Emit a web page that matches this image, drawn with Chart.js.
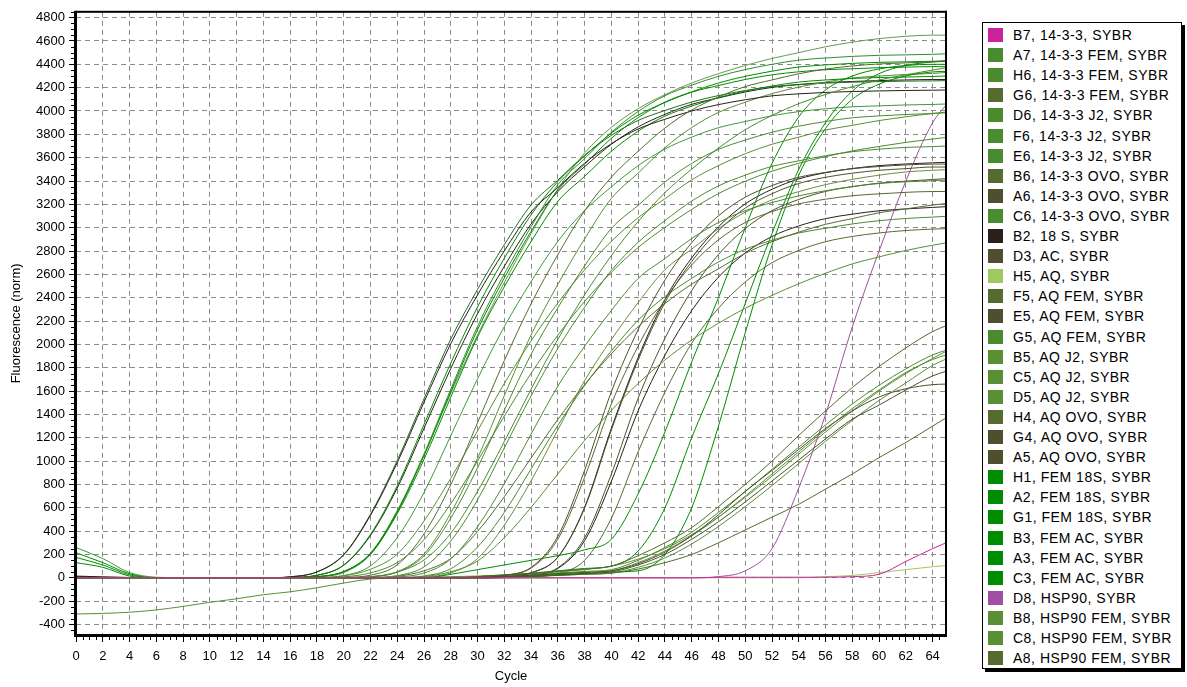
<!DOCTYPE html>
<html>
<head>
<meta charset="utf-8">
<script src="https://cdn.jsdelivr.net/npm/chart.js@4.4.1/dist/chart.umd.min.js"></script>
<style>
  body { margin: 0; background: #fff; font-family: "Liberation Sans", Arial, sans-serif; }
  #wrap { position: relative; width: 1187px; height: 687px; }
  #plot { position: absolute; left: 0; top: 0; }
  #legend { position: absolute; left: 982px; top: 22px; width: 198px; height: 645px;
            border: 1px solid #000; box-shadow: 3px 3px 0 #000; background: #fff; }
  .item { position: absolute; left: 0; height: 20px; line-height: 20px; font-size: 14px; letter-spacing: 0.5px; color: #000; white-space: nowrap; }
  .sw { position: absolute; left: 5px; top: 3px; width: 15px; height: 14px; }
  .txt { position: absolute; left: 30px; top: 0; }
</style>
</head>
<body>
<div id="wrap">
  <canvas id="plot" width="960" height="687"></canvas>
  <div id="legend"></div>
</div>
<script>
const cycles = [0,2,4,6,8,10,12,14,16,18,20,22,24,26,28,30,32,34,36,38,40,42,44,46,48,50,52,54,56,58,60,62,64,65];

// fluorescence (norm) per well
const b7 = [0,0,0,0,0,0,0,0,0,0, 0,0,0,0,0,0,0,0,0,0, 0,0,0,0,5,5,5,5,5,10, 30,140,250,300];
const a7 = [0,0,0,0,0,0,0,0,0,0, 0,8,48,188,511,942,1436,1915,2314,2673, 2993,3192,3392,3551,3671,3751,3818,3870,3910,3942, 3958,3970,3978,3985];
const h6 = [0,0,0,0,0,0,0,0,0,0, 8,42,131,327,635,1001,1386,1752,2079,2368, 2618,2830,3003,3157,3292,3398,3484,3552,3609,3658, 3696,3731,3760,3773];
const g6 = [0,0,0,0,0,0,0,0,0,0, 4,22,111,377,797,1329,1861,2348,2769,3145, 3433,3655,3854,4009,4120,4209,4266,4319,4359,4386, 4403,4412,4421,4425];
const d6 = [0,0,0,0,0,0,0,0,0,0, 0,4,19,93,315,668,1113,1558,1966,2319, 2634,2875,3061,3228,3358,3450,3525,3573,3617,3651, 3673,3688,3695,3700];
const f6 = [0,0,0,0,0,0,0,0,0,0, 0,9,49,153,382,741,1167,1616,2043,2425, 2761,3053,3300,3502,3682,3839,3962,4063,4142,4209, 4266,4310,4351,4370];
const e6 = [0,0,0,0,0,0,0,0,0,0, 0,0,7,41,161,438,807,1231,1642,1984, 2291,2565,2736,2907,3044,3146,3215,3273,3317,3352, 3379,3393,3403,3408];
const b6 = [0,0,0,0,0,0,0,0,0,0, 0,0,13,60,166,397,695,1026,1357,1655, 1920,2152,2350,2516,2648,2780,2880,2962,3029,3078, 3128,3161,3194,3207];
const a6 = [0,0,0,0,0,0,0,0,0,0, 0,0,0,0,0,0,7,42,176,598, 1267,1866,2358,2710,2974,3168,3291,3379,3432,3467, 3492,3506,3520,3520];
const c6 = [0,0,0,0,0,0,0,0,0,0, 0,0,3,16,78,264,560,933,1306,1648, 1944,2208,2410,2566,2706,2815,2892,2955,2995,3032, 3060,3079,3091,3097];
const b2 = [10,5,2,0,0,0,0,0,8,50, 196,535,986,1505,2006,2424,2801,3135,3344,3553, 3720,3846,3929,4000,4055,4096,4130,4147,4159,4167, 4172,4176,4178,4180];
const d3 = [0,0,0,0,0,0,0,0,0,0, 0,0,0,0,0,4,21,89,355,922, 1595,2127,2552,2871,3102,3261,3361,3432,3474,3506, 3524,3538,3545,3545];
const h5 = [0,0,0,0,0,0,0,0,0,0, 0,0,0,0,0,0,0,0,0,0, 0,0,0,0,0,0,0,0,10,20, 45,70,95,105];
const f5 = [0,0,0,0,0,0,0,0,0,0, 0,0,0,0,0,10,20,35,55,75, 100,190,300,430,610,800,1000,1220,1430,1630, 1810,1970,2110,2160];
const e5 = [0,0,0,0,0,0,0,0,0,0, 0,0,0,0,0,5,12,22,35,45, 60,120,220,360,540,740,920,1100,1280,1430, 1550,1620,1655,1660];
const g5 = [0,0,0,0,0,0,0,0,0,0, 0,0,0,0,0,8,15,25,40,55, 70,150,260,390,560,740,930,1120,1310,1490, 1650,1790,1910,1950];
const b5 = [0,0,0,0,0,0,0,0,0,0, 0,0,0,11,52,144,344,603,890,1177, 1435,1665,1866,2038,2181,2310,2420,2520,2610,2690, 2750,2805,2850,2870];
const c5 = [0,0,0,0,0,0,0,0,0,0, 16,73,203,487,853,1259,1665,2030,2355,2639, 2883,3086,3248,3410,3532,3634,3715,3776,3837,3877, 3918,3950,3979,3990];
const d5 = [0,0,0,0,0,0,0,0,0,0, 0,0,0,0,0,5,12,22,35,48, 60,130,230,360,520,700,890,1080,1270,1450, 1610,1760,1870,1910];
const h4 = [0,0,0,0,0,0,0,0,0,0, 0,0,0,0,0,3,20,83,331,861, 1490,1986,2383,2681,2896,3045,3138,3204,3244,3274, 3290,3303,3310,3310];
const g4 = [0,0,0,0,0,0,0,0,0,0, 0,0,0,0,0,0,3,21,86,342, 889,1539,2052,2462,2770,2993,3146,3242,3311,3352, 3382,3399,3413,3420];
const a5 = [0,0,0,0,0,0,0,0,0,0, 0,0,0,0,0,5,10,18,28,38, 50,110,200,330,480,650,830,1010,1190,1360, 1480,1610,1730,1770];
const h1 = [175,110,25,0,0,0,0,0,4,22, 110,372,788,1314,1840,2321,2738,3110,3395,3614, 3811,3964,4073,4161,4218,4270,4310,4336,4354,4362, 4371,4376,4380,4380];
const a2 = [215,130,35,0,0,0,0,0,0,9, 53,208,567,1045,1595,2126,2569,2968,3323,3544, 3766,3943,4076,4164,4240,4297,4341,4377,4395,4408, 4417,4421,4426,4430];
const g1 = [130,90,15,0,0,0,0,0,0,9, 52,202,550,1015,1548,2064,2494,2881,3225,3440, 3655,3827,3956,4042,4115,4171,4214,4248,4266,4279, 4287,4291,4296,4300];
const b3 = [0,0,0,0,0,0,0,0,0,0, 0,0,0,0,30,70,110,150,190,240, 330,720,1250,1850,2400,3000,3550,3950,4180,4300, 4360,4390,4400,4400];
const a3 = [0,0,0,0,0,0,0,0,0,0, 0,0,0,0,0,10,25,40,60,80, 100,230,600,1200,1750,2350,2950,3500,3900,4170, 4320,4390,4420,4430];
const c3 = [0,0,0,0,0,0,0,0,0,0, 0,0,0,0,0,0,5,10,20,35, 50,60,200,600,1300,2100,2850,3450,3850,4100, 4230,4300,4335,4340];
const d8 = [0,0,0,0,0,0,0,0,0,0, 0,0,0,0,0,0,0,0,0,0, 0,0,0,0,10,60,250,770,1400,2150, 2800,3400,3900,4050];
const b8 = [-310,-305,-295,-275,-245,-210,-180,-145,-120,-85, -45,-10,0,5,10,15,25,35,50,70, 100,160,250,370,520,690,870,1060,1250,1430, 1600,1750,1880,1940];
const c8 = [0,0,0,0,0,0,0,0,0,0, 0,0,0,0,0,3,8,15,22,30, 40,90,170,290,440,610,790,980,1170,1350, 1520,1670,1820,1875];
const a8 = [0,0,0,0,0,0,0,0,0,0, 0,0,0,0,0,3,8,15,22,30, 40,75,130,200,300,410,520,630,760,890, 1030,1160,1300,1370];

// curves drawn in the plot that have no row in the legend box
const x1 = [15,8,3,0,0,0,0,0,4,21, 107,363,769,1281,1793,2263,2669,3032,3309,3523, 3715,3864,3971,4057,4112,4163,4202,4227,4244,4253, 4261,4266,4270,4270];
const x2 = [0,0,0,0,0,0,0,0,9,51, 200,545,1005,1534,2045,2471,2854,3195,3408,3621, 3791,3919,4004,4077,4132,4175,4209,4226,4239,4247, 4252,4256,4258,4260];
const x3 = [260,165,45,5,0,0,0,0,0,4, 20,102,345,731,1218,1705,2152,2538,2883,3147, 3350,3532,3674,3776,3857,3910,3959,3995,4019,4036, 4044,4052,4056,4060];
const x4 = [0,0,0,0,0,0,0,0,0,8, 45,200,560,1060,1580,2080,2530,2950,3330,3640, 3860,4020,4140,4240,4320,4390,4450,4500,4550,4590, 4620,4640,4650,4650];
const x5 = [0,0,0,0,0,0,0,0,0,9, 54,211,575,1060,1616,2155,2604,3008,3368,3592, 3817,3996,4131,4221,4297,4355,4400,4436,4454,4468, 4477,4481,4486,4490];
const x6 = [0,0,0,0,0,0,0,0,0,0, 0,0,0,7,42,165,451,831,1267,1690, 2042,2358,2640,2816,2992,3133,3238,3309,3369,3414, 3450,3478,3492,3497];
const x7 = [0,0,0,0,0,0,0,0,0,0, 0,9,52,204,555,1023,1561,2081,2514,2904, 3251,3468,3685,3858,3988,4075,4149,4205,4248,4283, 4300,4313,4322,4330];
const x8 = [0,0,0,0,0,0,0,0,0,0, 0,0,0,0,0,0,7,43,178,605, 1282,1887,2385,2741,3008,3204,3329,3418,3471,3507, 3532,3546,3556,3560];
const x9 = [0,0,0,0,0,0,0,0,0,0, 0,0,0,0,0,0,3,19,80,318, 827,1431,1908,2290,2576,2783,2925,3015,3078,3116, 3145,3161,3174,3180];
const x10 = [0,0,0,0,0,0,0,0,0,0, 0,0,0,0,0,0,0,6,36,150, 510,1080,1590,2010,2310,2535,2700,2805,2880,2925, 2955,2976,2988,2992];

const wellLabels = [
  'B7, 14-3-3, SYBR', 'A7, 14-3-3 FEM, SYBR', 'H6, 14-3-3 FEM, SYBR', 'G6, 14-3-3 FEM, SYBR',
  'D6, 14-3-3 J2, SYBR', 'F6, 14-3-3 J2, SYBR', 'E6, 14-3-3 J2, SYBR', 'B6, 14-3-3 OVO, SYBR',
  'A6, 14-3-3 OVO, SYBR', 'C6, 14-3-3 OVO, SYBR', 'B2, 18 S, SYBR', 'D3, AC, SYBR',
  'H5, AQ, SYBR', 'F5, AQ FEM, SYBR', 'E5, AQ FEM, SYBR', 'G5, AQ FEM, SYBR',
  'B5, AQ J2, SYBR', 'C5, AQ J2, SYBR', 'D5, AQ J2, SYBR', 'H4, AQ OVO, SYBR',
  'G4, AQ OVO, SYBR', 'A5, AQ OVO, SYBR', 'H1, FEM 18S, SYBR', 'A2, FEM 18S, SYBR',
  'G1, FEM 18S, SYBR', 'B3, FEM AC, SYBR', 'A3, FEM AC, SYBR', 'C3, FEM AC, SYBR',
  'D8, HSP90, SYBR', 'B8, HSP90 FEM, SYBR', 'C8, HSP90 FEM, SYBR', 'A8, HSP90 FEM, SYBR'
];
const wellSeries = [b7, a7, h6, g6, d6, f6, e6, b6, a6, c6, b2, d3, h5, f5, e5, g5,
                    b5, c5, d5, h4, g4, a5, h1, a2, g1, b3, a3, c3, d8, b8, c8, a8];
const wellColors = [
  '#cc2299', '#4b8b30', '#4b8b30', '#556b2f', '#4b8b30', '#4b8b30', '#4b8b30', '#556b2f',
  '#4f4f2f', '#4b8b30', '#2a1f1a', '#4f4f2f', '#a0c860', '#556b2f', '#4f4f2f', '#4b8b30',
  '#5a8f35', '#5a8f35', '#5a8f35', '#556b2f', '#4f4f2f', '#4f4f2f', '#008c00', '#008c00',
  '#008c00', '#008c00', '#008c00', '#008c00', '#a050a0', '#5a8f35', '#5a8f35', '#556b2f'
];
const extraSeries = [x4, x5, x3, x6, x7, x10, x2, x1, x8, x9];
const extraColors = ['#6a9a4a', '#2f8f2f', '#3c9a3c', '#6b8e3e', '#5a8f35', '#556b2f', '#1e6e1e', '#2a1f1a', '#2a1f1a', '#2a1f1a'];

// legend box
const legendBox = document.getElementById('legend');
wellLabels.forEach(function (label, i) {
  const row = document.createElement('div');
  row.className = 'item';
  row.style.top = (2 + 20.1 * i) + 'px';
  row.innerHTML = '<span class="sw" style="background:' + wellColors[i] + '"></span><span class="txt"></span>';
  row.querySelector('.txt').textContent = label;
  legendBox.appendChild(row);
});

function toPoints(values) {
  return values.map((v, i) => ({ x: cycles[i], y: v }));
}

const datasets = [];
wellSeries.forEach(function (s, i) {
  datasets.push({ label: wellLabels[i], data: toPoints(s), borderColor: wellColors[i] });
});
extraSeries.forEach(function (s, i) {
  datasets.push({ label: '', data: toPoints(s), borderColor: extraColors[i] });
});

// axis frame and small ticks, drawn on top like the original
const framePlugin = {
  id: 'frame',
  afterDraw(chart) {
    const { ctx, chartArea: a, scales } = chart;
    const x = scales.x, y = scales.y;
    ctx.save();
    ctx.fillStyle = '#000';
    for (let v = 0.5; v < 65; v += 0.5) {
      if (v % 2 === 0) continue;
      const px = Math.round(x.getPixelForValue(v));
      ctx.fillRect(px, a.bottom + 1, 1, 4);
    }
    for (let v = -450; v <= 4850; v += 50) {
      if (v % 200 === 0) continue;
      const py = Math.round(y.getPixelForValue(v));
      ctx.fillRect(a.left - 5, py, 3, 1);
    }
    ctx.fillRect(a.left, a.top - 1, a.right - a.left + 1, 2);
    ctx.fillRect(a.right - 1, a.top - 1, 2, a.bottom - a.top + 2);
    ctx.fillRect(a.left - 2, a.top - 1, 3, a.bottom - a.top + 3);
    ctx.fillRect(a.left - 2, a.bottom - 1, a.right - a.left + 3, 3);
    ctx.restore();
  }
};

const tickFont = { family: 'Liberation Sans', size: 13 };

new Chart(document.getElementById('plot').getContext('2d'), {
  type: 'line',
  data: { datasets: datasets },
  options: {
    responsive: false,
    animation: false,
    layout: { padding: { top: 10, right: 14, left: 0, bottom: 0 } },
    elements: {
      point: { radius: 0 },
      line: { borderWidth: 1, cubicInterpolationMode: 'monotone' }
    },
    plugins: { legend: { display: false }, tooltip: { enabled: false } },
    scales: {
      x: {
        type: 'linear', min: 0, max: 65,
        ticks: { stepSize: 2, includeBounds: false, autoSkip: false, maxRotation: 0, color: '#000', font: tickFont, padding: 7,
                 callback: function (v) { return String(v); } },
        grid: { color: '#8a8a8a', tickColor: '#000', tickLength: 7 },
        border: { display: false, dash: [5, 4] },
        title: { display: true, text: 'Cycle', color: '#000', font: tickFont, padding: { top: 0, bottom: 3 } },
        afterFit: function (scale) { scale.height = 52; }
      },
      y: {
        type: 'linear', min: -490, max: 4850,
        ticks: { stepSize: 200, includeBounds: false, color: '#000', font: tickFont, padding: 4,
                 callback: function (v) { return String(v); } },
        grid: { color: '#8a8a8a', tickColor: '#000', tickLength: 7 },
        border: { display: false, dash: [5, 4] },
        title: { display: true, text: 'Fluorescence (norm)', color: '#000', font: tickFont, padding: { top: 9, bottom: 0 } },
        afterFit: function (scale) { scale.width = 76; }
      }
    }
  },
  plugins: [framePlugin]
});
</script>
</body>
</html>
